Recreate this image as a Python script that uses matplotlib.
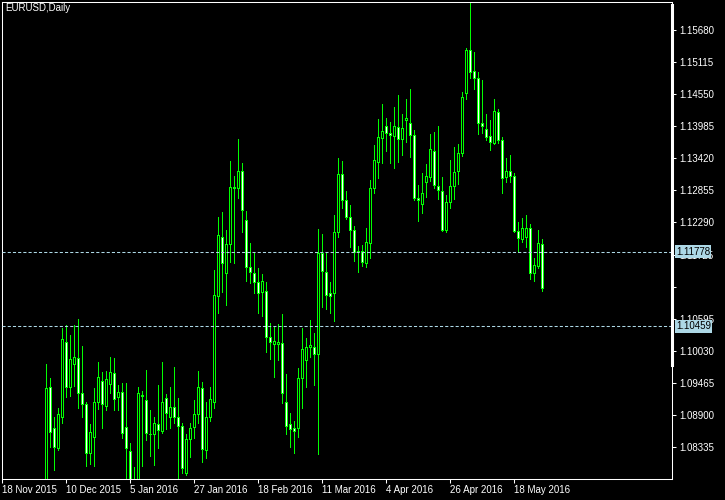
import matplotlib

matplotlib.use("Agg")

import matplotlib.pyplot as plt  # noqa: E402
import numpy as np  # noqa: E402
from matplotlib.lines import Line2D  # noqa: E402

plt.rcParams["font.family"] = ["Liberation Sans", "DejaVu Sans"]

# daily EURUSD candles, first bar sits at slot 11 of the chart
first_slot = 11

opens = [
    1.07719, 1.09392, 1.08670, 1.08318, 1.08864, 1.10185, 1.09392, 1.09797, 1.09903, 1.09287,
    1.09093, 1.08230, 1.08512, 1.09128, 1.09498, 1.09058, 1.09445, 1.09639, 1.09216, 1.09304,
    1.08688, 1.08265, 1.07719, 1.07666, 1.09250, 1.09163, 1.08570, 1.08564, 1.08741, 1.08617,
    1.09198, 1.08864, 1.09040, 1.08864, 1.08705, 1.07877, 1.08476, 1.08688, 1.08917, 1.09375,
    1.08283, 1.08864, 1.09128, 1.10995, 1.12034, 1.11400, 1.11911, 1.12897, 1.12897, 1.13196,
    1.12333, 1.11506, 1.11400, 1.11241, 1.11065, 1.11083, 1.10273, 1.10150, 1.10150, 1.10167,
    1.09128, 1.08741, 1.08670, 1.08670, 1.09551, 1.09868, 1.10097, 1.10097, 1.09973, 1.11752,
    1.11418, 1.11048, 1.11048, 1.12122, 1.13144, 1.12686, 1.12386, 1.12157, 1.11787, 1.11787,
    1.11576, 1.11928, 1.12897, 1.13355, 1.13778, 1.13989, 1.13866, 1.13813, 1.13971, 1.13760,
    1.14095, 1.14042, 1.13830, 1.12721, 1.12615, 1.13003, 1.13091, 1.13549, 1.12932, 1.12844,
    1.12157, 1.12650, 1.12932, 1.13196, 1.13513, 1.14570, 1.15327, 1.14958, 1.14834, 1.14042,
    1.13936, 1.13813, 1.13690, 1.14236, 1.13742, 1.13091, 1.13196, 1.13108, 1.12140, 1.11999,
    1.12034, 1.12193, 1.11400, 1.11523, 1.11911,
]
highs = [
    1.09797, 1.09551, 1.08864, 1.09022, 1.10431, 1.10484, 1.10308, 1.10484, 1.10590, 1.10114,
    1.09128, 1.08741, 1.09375, 1.09833, 1.09656, 1.09674, 1.09921, 1.09903, 1.09427, 1.09463,
    1.09463, 1.08406, 1.07983, 1.09392, 1.09322, 1.09692, 1.08987, 1.08864, 1.09427, 1.09833,
    1.09269, 1.09392, 1.09744, 1.09198, 1.08758, 1.08564, 1.08758, 1.09163, 1.09674, 1.09480,
    1.09128, 1.09392, 1.11453, 1.12386, 1.12474, 1.12157, 1.13373, 1.13108, 1.13760, 1.13337,
    1.12492, 1.11928, 1.11770, 1.11488, 1.11382, 1.11241, 1.10519, 1.10467, 1.10502, 1.10678,
    1.09621, 1.08934, 1.08793, 1.09727, 1.10431, 1.10255, 1.10572, 1.10343, 1.12175, 1.12087,
    1.11752, 1.11241, 1.12421, 1.13425, 1.13373, 1.12844, 1.12598, 1.12228, 1.11875, 1.11893,
    1.12193, 1.13038, 1.13654, 1.14112, 1.14376, 1.14130, 1.14059, 1.14324, 1.14535, 1.14200,
    1.14464, 1.14641, 1.13918, 1.12950, 1.13161, 1.13320, 1.13848, 1.13883, 1.13989, 1.13091,
    1.12774, 1.13390, 1.13619, 1.13672, 1.14588, 1.15363, 1.16170, 1.15292, 1.14940, 1.14799,
    1.14200, 1.14095, 1.14464, 1.14288, 1.13795, 1.13425, 1.13478, 1.13161, 1.12298, 1.12369,
    1.12421, 1.12263, 1.11664, 1.12157, 1.11999,
]
lows = [
    1.07578, 1.08335, 1.07930, 1.08283, 1.08758, 1.09216, 1.09234, 1.09410, 1.09022, 1.08864,
    1.08001, 1.08036, 1.08001, 1.09005, 1.08670, 1.08987, 1.09287, 1.08987, 1.08987, 1.08494,
    1.07790, 1.07490, 1.07490, 1.07543, 1.08001, 1.08459, 1.08177, 1.08018, 1.08318, 1.08582,
    1.08653, 1.08670, 1.08758, 1.07790, 1.07877, 1.07842, 1.08159, 1.08494, 1.08758, 1.08071,
    1.08142, 1.08793, 1.09022, 1.10695, 1.11065, 1.10836, 1.11594, 1.11576, 1.12721, 1.12122,
    1.11259, 1.11224, 1.11048, 1.10695, 1.10643, 1.10009, 1.09885, 1.09568, 1.09868, 1.09110,
    1.08564, 1.08335, 1.08230, 1.08512, 1.09022, 1.09392, 1.09921, 1.09427, 1.08212, 1.10801,
    1.10766, 1.10695, 1.10555, 1.12034, 1.12545, 1.12351, 1.11858, 1.11611, 1.11418, 1.11523,
    1.11506, 1.11664, 1.12809, 1.13073, 1.13337, 1.13549, 1.13337, 1.13249, 1.13355, 1.13478,
    1.13707, 1.13443, 1.12686, 1.12316, 1.12457, 1.12738, 1.13020, 1.12897, 1.12703, 1.12140,
    1.12122, 1.12545, 1.12703, 1.12967, 1.13460, 1.14464, 1.14834, 1.14641, 1.13848, 1.13866,
    1.13742, 1.13566, 1.13672, 1.13690, 1.12809, 1.13003, 1.13003, 1.12122, 1.11770, 1.11946,
    1.11858, 1.11294, 1.11259, 1.11488, 1.11083,
]
closes = [
    1.09375, 1.08600, 1.08335, 1.08917, 1.10238, 1.09392, 1.09885, 1.09921, 1.09287, 1.09093,
    1.08230, 1.08600, 1.09128, 1.09568, 1.09093, 1.09533, 1.09656, 1.09181, 1.09304, 1.08582,
    1.08318, 1.07719, 1.07666, 1.09287, 1.09230, 1.08582, 1.08560, 1.08758, 1.08635, 1.09128,
    1.08934, 1.09040, 1.08864, 1.08705, 1.07966, 1.08476, 1.08670, 1.08917, 1.09392, 1.08300,
    1.08864, 1.09181, 1.11013, 1.12069, 1.11576, 1.11911, 1.12915, 1.12915, 1.13196, 1.12510,
    1.11506, 1.11418, 1.11241, 1.11048, 1.11259, 1.10273, 1.10185, 1.10202, 1.10185, 1.09287,
    1.08705, 1.08653, 1.08617, 1.09551, 1.10061, 1.10097, 1.10132, 1.09973, 1.11752, 1.11435,
    1.11013, 1.10995, 1.12122, 1.13144, 1.12686, 1.12386, 1.12157, 1.11770, 1.11780, 1.11594,
    1.11946, 1.12897, 1.13390, 1.13795, 1.13901, 1.13866, 1.13830, 1.13989, 1.13760, 1.13954,
    1.14130, 1.13830, 1.12721, 1.12686, 1.12809, 1.13108, 1.13584, 1.12950, 1.12862, 1.12157,
    1.12650, 1.12932, 1.13179, 1.13513, 1.14500, 1.15327, 1.14940, 1.14834, 1.14042, 1.13989,
    1.13795, 1.13707, 1.14253, 1.13742, 1.13073, 1.13196, 1.13108, 1.12140, 1.12016, 1.12193,
    1.12193, 1.11400, 1.11541, 1.11928, 1.11136,
]

date_slots = [0, 16, 32, 48, 64, 80, 96, 112, 128]
date_labels = [
    "18 Nov 2015", "10 Dec 2015", "5 Jan 2016", "27 Jan 2016", "18 Feb 2016",
    "11 Mar 2016", "4 Apr 2016", "26 Apr 2016", "18 May 2016",
]
price_ticks = [
    1.15680, 1.15115, 1.14550, 1.13985, 1.13420, 1.12855, 1.12290,
    1.11725, 1.11160, 1.10595, 1.10030, 1.09465, 1.08900, 1.08335,
]
hidden_tick = 1.11160
level_lines = [1.11778, 1.10459]

green = "#00ff00"
level_color = "#add8e6"

fig = plt.figure(figsize=(7.25, 5), dpi=100, facecolor="black")
ax = fig.add_axes([2 / 725, 21 / 500, 670 / 725, 477 / 500])
ax.set_facecolor("black")

o = np.array(opens)
h = np.array(highs)
lo = np.array(lows)
c = np.array(closes)
slots = np.arange(first_slot, first_slot + len(o))

# wicks first, bodies on top
ax.vlines(slots, lo, h, color=green, linewidth=0.5, antialiased=False, zorder=2)
fills = np.where(c >= o, "black", "white")
ax.bar(
    slots,
    np.abs(c - o),
    bottom=np.minimum(o, c),
    width=0.5,
    color=fills,
    edgecolor=green,
    linewidth=0.5,
    antialiased=False,
    zorder=3,
)

for lvl in level_lines:
    ax.axhline(lvl, color=level_color, linewidth=0.75, dashes=(3, 2), zorder=4)
    ax.text(
        1 + 4 / 670,
        lvl,
        f"{lvl:.5f}",
        transform=ax.get_yaxis_transform(),
        ha="left",
        va="center",
        fontsize=7,
        color="black",
        bbox=dict(boxstyle="square,pad=0.12", fc=level_color, ec="none"),
        zorder=10,
        clip_on=False,
    )

ax.set_xlim(-0.075, 167.425)
ax.set_ylim(1.07772, 1.16173)

for side in ["left", "right", "top", "bottom"]:
    ax.spines[side].set_color("white")
    ax.spines[side].set_linewidth(0.75)

ax.add_line(
    Line2D([1, 1], [0.239, 0.994], transform=ax.transAxes, color="white",
           linewidth=2.2, clip_on=False, zorder=6)
)

ax.yaxis.tick_right()
ax.set_yticks(price_ticks)
ax.set_yticklabels(["" if t == hidden_tick else f"{t:.5f}" for t in price_ticks])
ax.tick_params(axis="y", colors="white", labelsize=7, length=3, width=0.75, pad=2)

ax.set_xticks(date_slots)
ax.set_xticklabels(date_labels)
ax.tick_params(axis="x", colors="white", labelsize=7, length=3, width=0.75, pad=1)
for lab in ax.get_xticklabels():
    lab.set_ha("left")

fig.text(5 / 725, 1 - 8 / 500, "EURUSD,Daily", color="white", fontsize=7, va="center")

fig.savefig("out.png", dpi=100, facecolor="black")
